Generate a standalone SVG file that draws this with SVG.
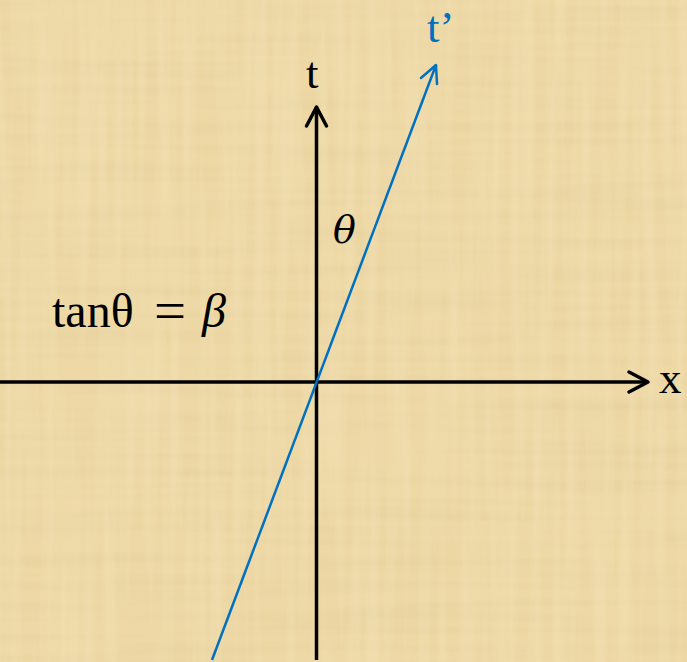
<svg xmlns="http://www.w3.org/2000/svg" width="687" height="662" viewBox="0 0 687 662">
  <defs>
    <style>
      .axis { stroke: #000000; stroke-width: 3.5; fill: none; }
      .axis-head { stroke: #000000; stroke-width: 3.5; fill: none; stroke-linecap: round; stroke-linejoin: round; }
      .boost { stroke: #0070C0; stroke-width: 2.5; fill: none; }
      .boost-head { stroke: #0070C0; stroke-width: 2.5; fill: none; stroke-linecap: round; stroke-linejoin: round; }
      .lbl { font-family: "Liberation Serif", "DejaVu Serif", serif; font-size: 45px; fill: #000000; }
      .lbl-blue { font-family: "Liberation Serif", "DejaVu Serif", serif; font-size: 45px; fill: #0070C0; }
      .eq { font-family: "Liberation Serif", "DejaVu Serif", serif; font-size: 48px; fill: #000000; }
      .math { font-family: "DejaVu Serif", "Liberation Serif", serif; font-size: 38px; fill: #000000; }
    </style>
    <filter id="fibers" x="0" y="0" width="100%" height="100%">
      <feTurbulence type="fractalNoise" baseFrequency="0.004 0.09" numOctaves="2" seed="3" result="v"/>
      <feColorMatrix in="v" type="matrix" values="0 0 0 0 0.55  0 0 0 0 0.42  0 0 0 0 0.18  0 0 0 -0.9 0.55" result="vc"/>
      <feTurbulence type="fractalNoise" baseFrequency="0.09 0.004" numOctaves="2" seed="7" result="h"/>
      <feColorMatrix in="h" type="matrix" values="0 0 0 0 1  0 0 0 0 0.95  0 0 0 0 0.82  0 0 0 -0.9 0.55" result="hc"/>
      <feMerge>
        <feMergeNode in="vc"/>
        <feMergeNode in="hc"/>
      </feMerge>
    </filter>
  </defs>

  <g id="background">
    <rect x="0" y="0" width="687" height="662" fill="#EED9A6"/>
    <rect x="0" y="0" width="687" height="662" filter="url(#fibers)" opacity="0.3"/>
  </g>

  <g id="connectors">
    <line class="axis" x1="0" y1="382" x2="648" y2="382"/>
    <polyline class="axis-head" points="629,372 648,382 629,392"/>
    <line class="axis" x1="316.5" y1="660" x2="316.5" y2="107"/>
    <polyline class="axis-head" points="306.5,126 316.5,107 326.5,126"/>
    <line class="boost" x1="212" y1="660" x2="436" y2="65"/>
    <polyline class="boost-head" points="421,78 436,65 437,84"/>
  </g>

  <g id="label-t">
    <text class="lbl" x="306" y="88">t</text>
  </g>
  <g id="label-tprime">
    <text class="lbl-blue" x="427" y="42">t’</text>
  </g>
  <g id="label-x">
    <text class="lbl" x="659" y="393">x</text>
  </g>
  <g id="label-theta">
    <text class="math" x="333" y="243" font-style="italic">θ</text>
  </g>
  <g id="label-tan">
    <text class="eq" y="327"><tspan x="52">tanθ</tspan><tspan x="154" y="330" font-size="57">=</tspan><tspan x="202" y="327" font-style="italic">β</tspan></text>
  </g>
</svg>
